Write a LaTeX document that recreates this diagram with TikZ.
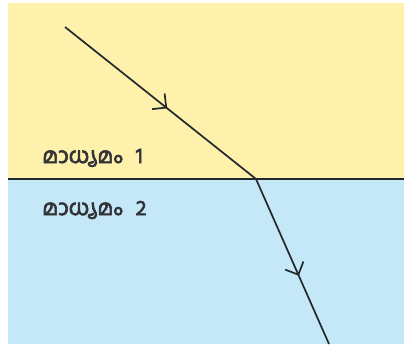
\documentclass[tikz,border=0pt]{standalone}
\usepackage{fontspec}
\newfontfamily\mlfont[Script=Malayalam,FakeBold=3]{Hind Kochi}
\usetikzlibrary{decorations.markings}
\definecolor{medyellow}{RGB}{253,241,172}
\definecolor{medblue}{RGB}{197,232,249}
\definecolor{raycol}{RGB}{35,40,45}
\definecolor{labcol}{RGB}{50,50,55}
\tikzset{
  ray/.style={draw=raycol, line width=1.7pt, line join=miter},
  midarrow/.style={postaction={decorate}, decoration={markings,
    mark=at position #1 with {\draw[raycol, line width=1.7pt, line join=miter] (-10pt,10pt) -- (0,0) -- (-10pt,-10pt);}}},
  medlabel/.style={anchor=west, text=labcol, font=\mlfont\fontsize{21.5}{25}\selectfont, inner sep=0pt}
}
\begin{document}
\begin{tikzpicture}[x=1pt,y=-1pt]
\useasboundingbox (0,0) rectangle (404,358);
\fill[white] (0,0) rectangle (404,358);
\fill[medyellow] (8,3) rectangle (404,179);
\fill[medblue] (8,179) rectangle (404,344);
\coordinate (bl) at (8,179);
\coordinate (br) at (404,179);
\draw[raycol, line width=1.4pt] (bl) -- (br);
\coordinate (start) at (65,27);
\coordinate (hit) at (256,179);
\coordinate (stop) at (329,344);
\draw[ray, midarrow=0.53] (start) -- (hit);
\draw[ray, midarrow=0.58] (hit) -- (stop);
\node[medlabel] (m1) at (42,158) {മാധ്യമം\kern13pt 1};
\node[medlabel] (m2) at (42,210) {മാധ്യമം\kern13pt 2};
\end{tikzpicture}
\end{document}
